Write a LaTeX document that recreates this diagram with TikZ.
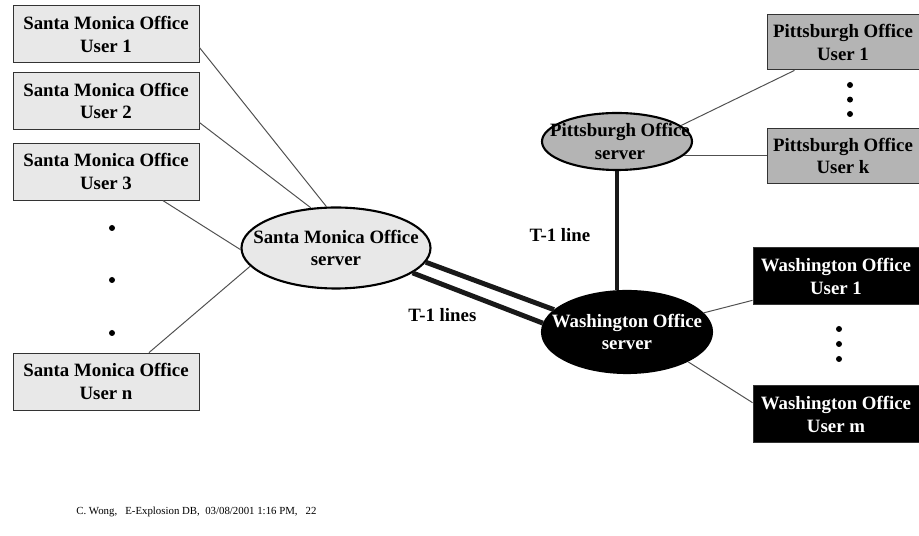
\documentclass[tikz,border=0pt]{standalone}
\usepackage{fontspec}
\setmainfont{Liberation Serif}
\usetikzlibrary{shapes.geometric}

\definecolor{smgray}{HTML}{E8E8E8}
\definecolor{pgray}{HTML}{B4B4B4}
\definecolor{wiregray}{HTML}{505050}

\tikzset{
  labelfont/.style={font=\bfseries\fontsize{13.4}{16}\selectfont},
  usr/.style={rectangle, draw=black!80, line width=0.7pt, minimum height=1.425cm,
    align=center, inner sep=0pt, labelfont},
  smuser/.style={usr, fill=smgray, minimum width=4.65cm},
  puser/.style={usr, fill=pgray, minimum width=3.8cm, minimum height=1.375cm},
  wuser/.style={usr, fill=black, text=white, minimum width=4.15cm},
  srv/.style={ellipse, draw=black, line width=1.5pt},
  srvtext/.style={align=center, inner sep=0pt, labelfont},
  wire/.style={draw=wiregray, line width=0.7pt},
  tone/.style={draw=black!90, line width=3.5pt},
  gapdot/.style={circle, fill=black, inner sep=0pt, minimum size=0.15cm}
}

\begin{document}
\begin{tikzpicture}
\useasboundingbox (0,0) rectangle (22.975,13.4);

% Santa Monica users
\node[smuser] (u1) at (2.65,12.54) {Santa Monica Office\\User 1};
\node[smuser] (u2) at (2.65,10.875) {Santa Monica Office\\User 2};
\node[smuser] (u3) at (2.65,9.11) {Santa Monica Office\\User 3};
\node[smuser] (un) at (2.65,3.86) {Santa Monica Office\\User n};
\foreach \y [count=\i] in {7.7,6.4,5.075}
  \node[gapdot] (smdot\i) at (2.8,\y) {};

% servers
\node[srv, fill=smgray, minimum width=4.725cm, minimum height=2.025cm] (sm) at (8.4,7.2) {};
\node[srvtext] (smtxt) at (sm) {Santa Monica Office\\server};
\node[srv, fill=pgray, minimum width=3.75cm, minimum height=1.425cm] (ps) at (15.425,9.8625) {};
\node[srvtext] (pstxt) at (15.5,9.8625) {Pittsburgh Office\\server};
\node[srv, fill=black, minimum width=4.25cm, minimum height=2.05cm] (ws) at (15.675,5.1) {};
\node[srvtext, text=white] (wstxt) at (ws) {Washington Office\\server};

% Pittsburgh users
\node[puser] (pu1) at (21.075,12.34) {Pittsburgh Office\\User 1};
\node[puser] (puk) at (21.075,9.5) {Pittsburgh Office\\User k};
\foreach \y [count=\i] in {11.275,10.91,10.55}
  \node[gapdot] (pdot\i) at (21.25,\y) {};

% Washington users
\node[wuser] (wu1) at (20.9,6.49) {Washington Office\\User 1};
\node[wuser] (wum) at (20.9,3.04) {Washington Office\\User m};
\foreach \y [count=\i] in {5.175,4.8,4.425}
  \node[gapdot] (wdot\i) at (20.975,\y) {};

% local wiring
\draw[wire] (u1.-8) -- (sm.103);
\draw[wire] (u2.-13) -- (sm.122);
\draw[wire] (u3.-27) -- (sm.181);
\draw[wire] (un.34) -- (sm.192);
\draw[wire] (ps.14) -- (pu1.210);
\draw[wire] (ps.-12) -- (ps.-12 -| puk.west);
\draw[wire] (ws.14) -- (wu1.196);
\draw[wire] (ws.-26) -- (wum.172);

% T-1 lines
\draw[tone] (sm.-9) -- (ws.163);
\draw[tone] (sm.-18) -- (ws.174);
\draw[tone] (ps.south) -- (ps.south |- ws.north);
\node[labelfont] (t1line) at (14.0,7.525) {T-1 line};
\node[labelfont] (t1lines) at (11.06,5.525) {T-1 lines};

\node[anchor=west, inner sep=0pt, font=\fontsize{7.7}{9}\selectfont] (foot) at (1.9,0.6)
  {C. Wong,\ \ \ E-Explosion DB,\ \ 03/08/2001 1:16 PM,\ \ \ 22};
\end{tikzpicture}
\end{document}
